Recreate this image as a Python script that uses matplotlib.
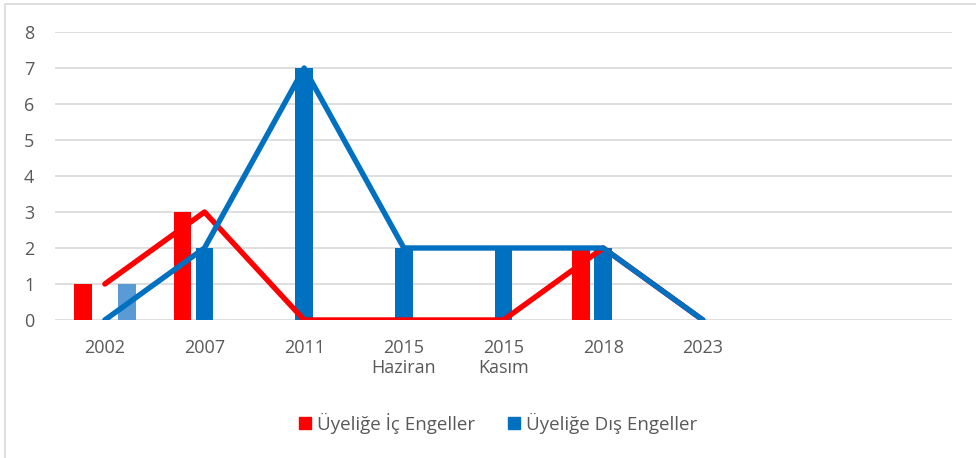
import numpy as np
import matplotlib.pyplot as plt
from matplotlib.patches import Patch, Rectangle

plt.rcParams['font.family'] = ['Open Sans', 'DejaVu Sans']

# categories (two empty slots at the right end, as in the original sheet)
categories = ["2002", "2007", "2011", "2015\nHaziran", "2015\nKasım", "2018", "2023", "", ""]

# bar series
ic_bars = [1, 3, 0, 0, 0, 2, 0]
dis_bars = [0, 2, 7, 2, 2, 2, 0]
dis_bars_extra = [1, 0, 0, 0, 0, 0, 0]

# line series
ic_line = [1, 3, 0, 0, 0, 2, 0]
dis_line = [0, 2, 7, 2, 2, 2, 0]

red = "#FF0000"
blue = "#0070C0"
light_blue = "#5B9BD5"
text_col = "#595959"

fig = plt.figure(figsize=(9.76, 4.58), dpi=100)
ax = fig.add_axes([55 / 976, 138 / 458, 897 / 976, 288 / 458])

# light frame around the chart area
fig.patches.append(Rectangle((5 / 976, -0.1), 1.2, (458 - 4) / 458 + 0.1,
                             transform=fig.transFigure, fill=False,
                             edgecolor="#D9D9D9", linewidth=1.2))

x = np.arange(len(ic_bars))
w = 0.176
ax.bar(x - 0.22, ic_bars, w, color=red, zorder=2)
ax.bar(x, dis_bars, w, color=blue, zorder=2)
ax.bar(x + 0.22, dis_bars_extra, w, color=light_blue, zorder=2)

ax.plot(x, ic_line, color=red, lw=3.9, solid_capstyle="round",
        solid_joinstyle="round", zorder=3)
ax.plot(x, dis_line, color=blue, lw=3.9, solid_capstyle="round",
        solid_joinstyle="round", zorder=4)

ax.set_xlim(-0.5, len(categories) - 0.5)
ax.set_ylim(0, 8)
ax.set_yticks(range(0, 9))
ax.set_xticks(range(len(categories)))
ax.set_xticklabels(categories, linespacing=1.1)
ax.tick_params(axis="both", length=0, labelsize=13, labelcolor=text_col)
ax.tick_params(axis="x", pad=14)
ax.tick_params(axis="y", pad=15)
ax.grid(axis="y", color="#D9D9D9", linewidth=1.2, zorder=0)
ax.set_axisbelow(True)
for s in ax.spines.values():
    s.set_visible(False)

handles = [Patch(color=red, label="Üyeliğe İç Engeller"),
           Patch(color=blue, label="Üyeliğe Dış Engeller")]
fig.legend(handles=handles, loc="center", bbox_to_anchor=(498 / 976, 1 - 423 / 458),
           ncol=2, frameon=False, fontsize=13.5, labelcolor=text_col,
           handlelength=0.65, handleheight=0.65, handletextpad=0.32, columnspacing=1.75)

fig.savefig("out.png", dpi=100)
